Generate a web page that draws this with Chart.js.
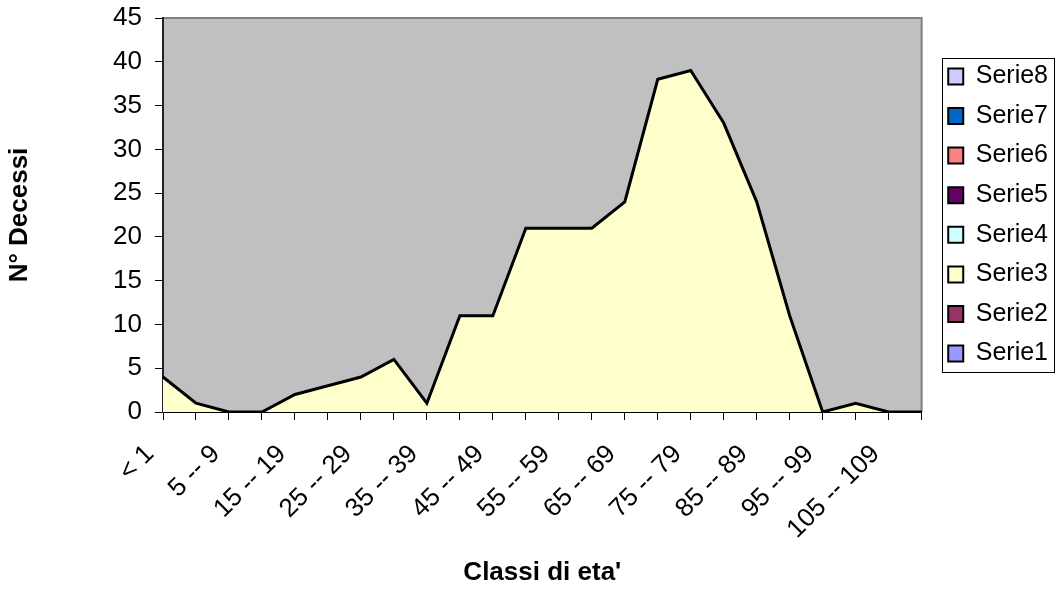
<!DOCTYPE html>
<html>
<head>
<meta charset="utf-8">
<script src="https://cdn.jsdelivr.net/npm/chart.js@4.4.1/dist/chart.umd.min.js"></script>
<style>
html, body { margin: 0; padding: 0; background: #ffffff; }
#wrap { width: 1058px; height: 589px; position: relative; }
</style>
</head>
<body>
<div id="wrap"><canvas id="c"></canvas></div>
<script>
// ---- Data ----
const categories = ["< 1", "1 -- 4", "5 -- 9", "10 -- 14", "15 -- 19", "20 -- 24", "25 -- 29", "30 -- 34",
  "35 -- 39", "40 -- 44", "45 -- 49", "50 -- 54", "55 -- 59", "60 -- 64", "65 -- 69", "70 -- 74",
  "75 -- 79", "80 -- 84", "85 -- 89", "90 -- 94", "95 -- 99", "100 -- 104", "105 -- 109", "110 e oltre"];
const serie1 = [];
const serie2 = [];
const serie3 = [4, 1, 0, 0, 2, 3, 4, 6, 1, 11, 11, 21, 21, 21, 24, 38, 39, 33, 24, 11, 0, 1, 0, 0];
const serie4 = [];
const serie5 = [];
const serie6 = [];
const serie7 = [];
const serie8 = [];
const seriesNames = ["Serie1", "Serie2", "Serie3", "Serie4", "Serie5", "Serie6", "Serie7", "Serie8"];
const seriesColors = ["#9999FF", "#993366", "#FFFFCC", "#CCFFFF", "#660066", "#FF8080", "#0066CC", "#CCCCFF"];
const yMin = 0, yMax = 45, yStep = 5;
const xTitle = "Classi di eta'";
const yTitle = "N° Decessi";

const seriesData = [serie1, serie2, serie3, serie4, serie5, serie6, serie7, serie8];
const FONT = "'Liberation Sans', Arial, sans-serif";

const datasets = seriesNames.map((name, i) => ({
  label: name,
  data: seriesData[i],
  backgroundColor: seriesColors[i],
  borderColor: "#000000",
  borderWidth: 3,
  fill: "origin",
  pointRadius: 0,
  pointHoverRadius: 0,
  tension: 0
}));

const decorations = {
  id: "decorations",
  beforeDraw(chart) {
    const { ctx, chartArea: a } = chart;
    ctx.save();
    ctx.fillStyle = "#C0C0C0";
    ctx.fillRect(a.left, a.top, a.right - a.left, a.bottom - a.top);
    ctx.strokeStyle = "#808080";
    ctx.lineWidth = 2;
    ctx.beginPath();
    ctx.moveTo(a.left, a.top);
    ctx.lineTo(a.right, a.top);
    ctx.lineTo(a.right, a.bottom);
    ctx.stroke();
    ctx.restore();
  },
  afterDraw(chart) {
    const lg = chart.legend;
    if (!lg || !lg.legendHitBoxes || !lg.legendHitBoxes.length) return;
    const hb = lg.legendHitBoxes;
    let minL = Infinity, minT = Infinity, maxR = -Infinity, maxB = -Infinity;
    hb.forEach(h => {
      minL = Math.min(minL, h.left); minT = Math.min(minT, h.top);
      maxR = Math.max(maxR, h.left + h.width); maxB = Math.max(maxB, h.top + h.height);
    });
    const ctx = chart.ctx;
    ctx.save();
    ctx.strokeStyle = "#000000";
    ctx.lineWidth = 1;
    const L = Math.round(minL - 6) + 0.5, T = Math.round(minT - 6) + 0.5;
    const R = Math.min(Math.round(maxR + 6), chart.width - 2) + 0.5, B = Math.round(maxB + 6) + 0.5;
    ctx.strokeRect(L, T, R - L, B - T);
    ctx.restore();
  }
};

new Chart(document.getElementById("c"), {
  type: "line",
  data: { labels: categories, datasets },
  plugins: [decorations],
  options: {
    responsive: true,
    maintainAspectRatio: false,
    animation: false,
    events: [],
    layout: { padding: { top: 18, left: 0, right: 0, bottom: 0 } },
    plugins: {
      tooltip: { enabled: false },
      legend: {
        display: true,
        position: "right",
        fullSize: false,
        reverse: true,
        labels: {
          font: { family: FONT, size: 25 },
          color: "#000000",
          boxWidth: 15,
          boxHeight: 16,
          padding: 14.6,
          generateLabels(chart) {
            const items = Chart.defaults.plugins.legend.labels.generateLabels(chart);
            items.forEach(it => { it.lineWidth = 2; it.strokeStyle = "#000000"; });
            return items;
          }
        }
      }
    },
    scales: {
      x: {
        type: "category",
        z: 1,
        grid: { display: true, drawOnChartArea: false, drawTicks: true, tickLength: 8, color: "#000000", lineWidth: 1 },
        border: { display: true, color: "#000000", width: 2 },
        ticks: {
          autoSkip: false,
          maxRotation: 45,
          minRotation: 45,
          padding: 19,
          labelOffset: -13,
          color: "#000000",
          font: { family: FONT, size: 26 },
          callback(value, index) { return index % 2 === 0 ? categories[index] : ""; }
        },
        title: {
          display: true,
          text: xTitle,
          color: "#000000",
          font: { family: FONT, size: 26, weight: "bold" },
          padding: { top: 4, bottom: 1 }
        },
        afterFit(scale) { scale.height = 177; scale.paddingLeft = 0; scale.paddingRight = 0; }
      },
      y: {
        type: "linear",
        z: 1,
        min: yMin,
        max: yMax,
        grid: { display: true, drawOnChartArea: false, drawTicks: true, tickLength: 8, color: "#000000", lineWidth: 1 },
        border: { display: true, color: "#222222", width: 2 },
        ticks: {
          stepSize: yStep,
          padding: 13,
          color: "#000000",
          font: { family: FONT, size: 26 }
        },
        title: {
          display: true,
          text: yTitle,
          color: "#000000",
          font: { family: FONT, size: 26, weight: "bold" },
          padding: { top: 4, bottom: 0 }
        },
        afterFit(scale) { scale.width = 163; scale.paddingTop = 0; scale.paddingBottom = 0; }
      },
      spacer: {
        type: "linear",
        position: "right",
        display: true,
        grid: { display: false, drawTicks: false },
        border: { display: false },
        ticks: { display: false },
        title: { display: false },
        afterFit(scale) { scale.width = 12; scale.paddingTop = 0; scale.paddingBottom = 0; }
      }
    }
  }
});
</script>
</body>
</html>
